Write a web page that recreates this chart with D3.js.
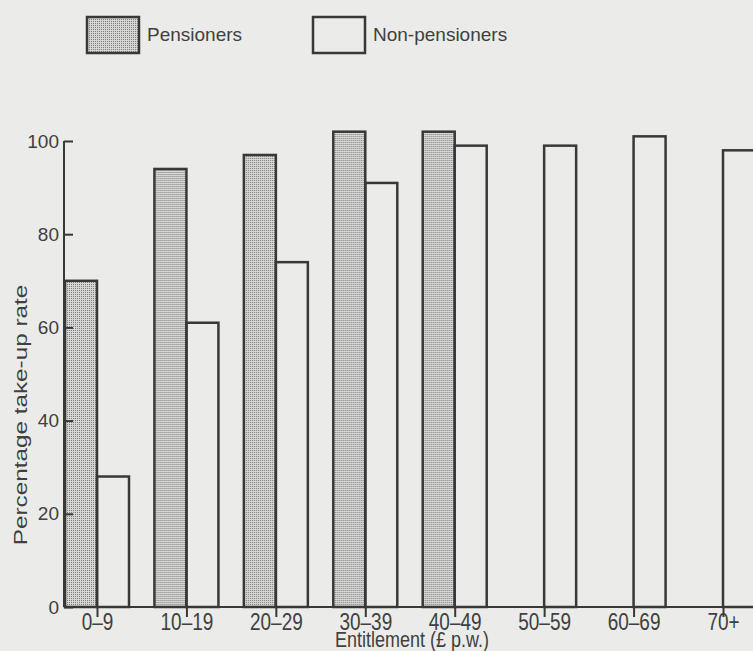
<!DOCTYPE html>
<html>
<head>
<meta charset="utf-8">
<script src="https://cdn.jsdelivr.net/npm/d3@7"></script>
<style>
  body { margin: 0; background: #ebece9; }
  svg { display: block; font-family: "Liberation Sans", Arial, sans-serif; }
</style>
</head>
<body>
<div id="chart"></div>
<script>
const categories = ["0–9", "10–19", "20–29", "30–39", "40–49", "50–59", "60–69", "70+"];
const pensioners = [70, 94, 97, 102, 102, 0, 0, 0];
const nonPensioners = [28, 61, 74, 91, 99, 99, 101, 98];
const yTicks = [0, 20, 40, 60, 80, 100];
const seriesNames = ["Pensioners", "Non-pensioners"];

const width = 753, height = 651;
const ink = "#383838";
const textInk = "#404040";

const svg = d3.select("#chart").append("svg")
    .attr("width", width)
    .attr("height", height);

// stipple fill for pensioner bars
const defs = svg.append("defs");
const pat = defs.append("pattern")
    .attr("id", "dots")
    .attr("width", 2).attr("height", 2)
    .attr("patternUnits", "userSpaceOnUse");
pat.append("rect").attr("width", 2).attr("height", 2).attr("fill", "#d6d6d4");
pat.append("rect").attr("width", 1).attr("height", 1).attr("fill", "#7e7e7e");

const axisX = 64, baseY = 607;

const yScale = d3.scaleLinear()
    .domain([0, 100])
    .range([baseY, 141]);

// group centres
const xScale = d3.scalePoint()
    .domain(categories)
    .range([97, 723]);

// pensioner bar left, non-pensioner bar right of the centre
const subScale = d3.scaleBand()
    .domain(seriesNames)
    .range([-32, 32]);

const data = categories.map((c, i) => ({ cat: c, values: [pensioners[i], nonPensioners[i]] }));

const groups = svg.selectAll(".grp")
    .data(data)
    .join("g")
    .attr("class", "grp")
    .attr("transform", d => `translate(${xScale(d.cat)},0)`);

groups.selectAll("rect")
    .data(d => d.values.map((v, j) => ({ key: seriesNames[j], v: v })).filter(e => e.v > 0))
    .join("rect")
    .attr("x", e => subScale(e.key))
    .attr("width", subScale.bandwidth())
    .attr("y", e => yScale(e.v))
    .attr("height", e => baseY - yScale(e.v))
    .attr("fill", e => e.key === "Pensioners" ? "url(#dots)" : "none")
    .attr("stroke", ink)
    .attr("stroke-width", 2.5);

// y axis, ticks pointing inwards
const yAxis = svg.append("g")
    .attr("transform", `translate(${axisX},0)`)
    .call(d3.axisRight(yScale).tickValues(yTicks).tickSize(9).tickFormat(d3.format("d")));
yAxis.select(".domain").attr("d", `M0,${yScale(100)}V${baseY}`);
yAxis.selectAll("line, path").attr("stroke", ink).attr("stroke-width", 2);
yAxis.selectAll("text")
    .attr("x", -5)
    .attr("text-anchor", "end")
    .attr("fill", textInk)
    .style("font-size", "19px");

// x axis
const xAxis = svg.append("g")
    .attr("transform", `translate(0,${baseY})`)
    .call(d3.axisBottom(xScale).tickSize(10).tickSizeOuter(0));
xAxis.select(".domain").attr("d", `M${axisX},0H${width}`);
xAxis.selectAll("line, path").attr("stroke", ink).attr("stroke-width", 2);
xAxis.selectAll("text")
    .attr("y", 23 / 1.25)
    .attr("dy", 0)
    .attr("transform", "scale(1,1.25)")
    .attr("fill", textInk)
    .style("font-size", "19px");

// axis titles
svg.append("text")
    .attr("transform", `translate(27,415) scale(1,1.35) rotate(-90)`)
    .attr("text-anchor", "middle")
    .attr("fill", textInk)
    .style("font-size", "18px")
    .text("Percentage take-up rate");

svg.append("text")
    .attr("transform", `translate(412,647) scale(1,1.18)`)
    .attr("text-anchor", "middle")
    .attr("fill", textInk)
    .style("font-size", "18px")
    .text("Entitlement (£ p.w.)");

// legend
const legendPos = [87, 313];
seriesNames.forEach((name, i) => {
    const lg = svg.append("g").attr("transform", `translate(${legendPos[i]},17)`);
    lg.append("rect")
        .attr("width", 52)
        .attr("height", 36)
        .attr("fill", i === 0 ? "url(#dots)" : "none")
        .attr("stroke", ink)
        .attr("stroke-width", 2.5);
    lg.append("text")
        .attr("x", 60)
        .attr("y", 24)
        .attr("fill", textInk)
        .style("font-size", "19px")
        .text(name);
});
</script>
</body>
</html>
